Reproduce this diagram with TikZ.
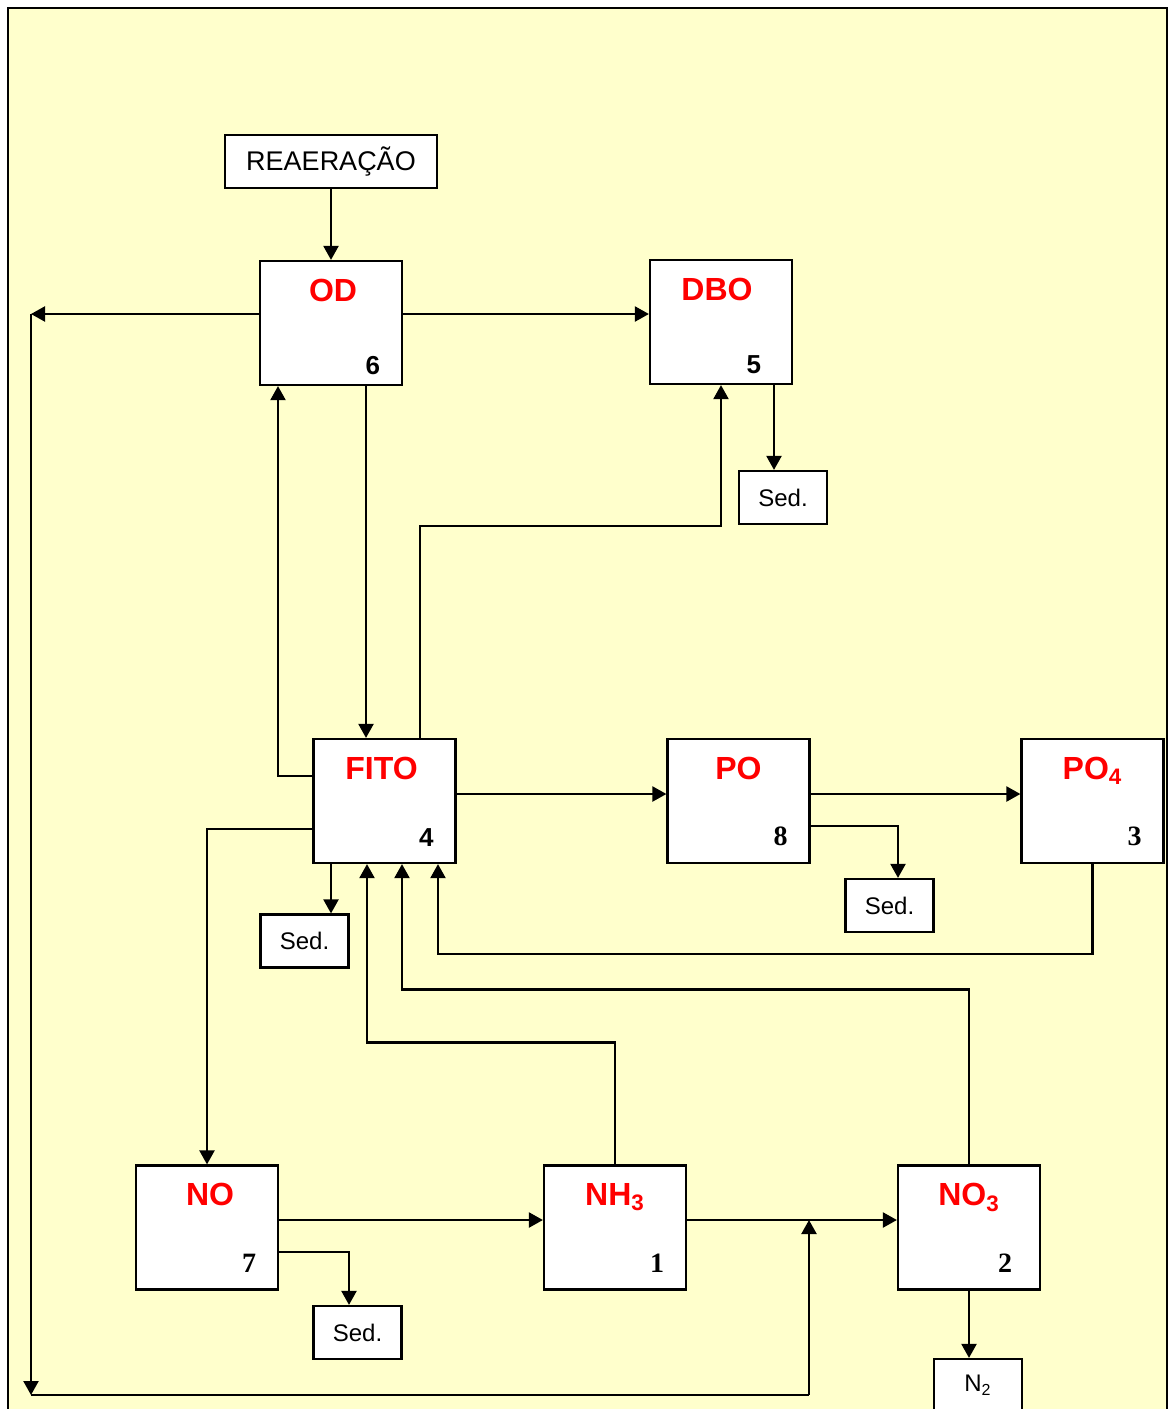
\documentclass[tikz,border=0pt]{standalone}
\usepackage{fontspec}
\setmainfont{Liberation Sans}
\newfontfamily\numserif{Liberation Serif}
\usepackage{xcolor}
\definecolor{paperYellow}{HTML}{FFFFCC}
\definecolor{titleRed}{HTML}{FF0000}
\usepackage{tikz}
\usetikzlibrary{arrows.meta, positioning}

\begin{document}
\begin{tikzpicture}[
    x=0.5pt, y=-0.5pt,
    line width=1.1pt,
    flow/.style={-{Triangle[length=7pt,width=7.5pt]}},
    compBox/.style={draw, fill=white, minimum width=71pt, minimum height=62pt, inner sep=0pt},
    termBox/.style={draw, fill=white, minimum width=44pt, minimum height=26.5pt, inner sep=0pt, font=\fontsize{12}{12}\selectfont},
    titleLbl/.style={anchor=north, inner sep=0pt, yshift=-9pt, text=titleRed, font=\bfseries\fontsize{16}{16}\selectfont},
    numSans/.style={anchor=south east, inner sep=0pt, xshift=-11pt, yshift=5pt, font=\bfseries\fontsize{13}{13}\selectfont},
    numSerif/.style={anchor=south east, inner sep=0pt, xshift=-11pt, yshift=8.5pt, font=\numserif\bfseries\fontsize{14}{14}\selectfont}
]
\clip (0,0) rectangle (1170,1409);

% Background panel
\draw[fill=paperYellow] (8,8) rectangle (1167,1440);

% Row 1: OD and DBO
\node[compBox, label={[titleLbl, xshift=1pt]north:OD}, label={[numSans]south east:6}] (od) at (331,323) {};
\node[compBox, label={[titleLbl, xshift=-2pt]north:DBO}, label={[numSans, xshift=-4.5pt]south east:5}] (dbo) at (721,322) {};
\node[termBox, minimum width=106pt, font=\fontsize{13.5}{13.5}\selectfont, above=35.5pt of od] (reaer) {REAERAÇÃO};

% Row 2: FITO, PO, PO4
\node[compBox, label={[titleLbl, xshift=-1.5pt]north:FITO}, label={[numSans, yshift=3.5pt]south east:4}] (fito) at (384.5,801) {};
\node[compBox, label={[titleLbl]north:PO}, label={[numSerif]south east:8}] (po) at (738.5,801) {};
\node[compBox, label={[titleLbl]north:{PO\textsubscript{4}}}, label={[numSerif]south east:3}] (po4) at (1092.5,801) {};

% Row 3: NO, NH3, NO3
\node[compBox, label={[titleLbl, xshift=1.5pt]north:NO}, label={[numSerif]south east:7}] (no) at (207,1227.5) {};
\node[compBox, label={[titleLbl]north:{NH\textsubscript{3}}}, label={[numSerif]south east:1}] (nh3) at (615,1227.5) {};
\node[compBox, label={[titleLbl]north:{NO\textsubscript{3}}}, label={[numSerif, xshift=-3pt]south east:2}] (no3) at (969,1227.5) {};

% Sinks
\node[termBox] (sedDbo) at (783,497.5) {Sed.};
\node[termBox] (sedFito) at (304.5,941) {Sed.};
\node[termBox] (sedPo) at (889.5,905.5) {Sed.};
\node[termBox] (sedNo) at (357.5,1332.5) {Sed.};
\node[termBox, font=\fontsize{12}{12}\selectfont] (n2) at (978,1385.5) {N\textsubscript{2}};

% Flows around OD
\draw[flow] (reaer) -- (od);
\draw[flow] ([yshift=4.5pt]od.east) -- ([yshift=4.5pt]od.east -| dbo.west);
\draw[flow] ([xshift=17.5pt]od.south) -- ([xshift=17.5pt]od.south |- fito.north);
\draw[flow] ([yshift=12.5pt]fito.west) -| ([xshift=-26.5pt]od.south);
\draw[flow] ([xshift=17.75pt]fito.north) -- ++(0,-212) -| (dbo.south);
\draw[flow] ([xshift=26.5pt]dbo.south) -- ([xshift=26.5pt]dbo.south |- sedDbo.north);

% Flows around FITO and PO
\draw[flow] ([yshift=3.5pt]fito.east) -- ([yshift=3.5pt]po.west);
\draw[flow] ([yshift=3.5pt]po.east) -- ([yshift=3.5pt]po4.west);
\draw[flow] ([yshift=-12.5pt]po.east) -| ([xshift=4.25pt]sedPo.north);
\draw[flow] (po4.south) -- ++(0,90) -| ([xshift=26.75pt]fito.south);
\draw[flow] (no3.north) -- ++(0,-175) -| ([xshift=8.75pt]fito.south);
\draw[flow] (nh3.north) -- ++(0,-122) -| ([xshift=-8.75pt]fito.south);
\draw[flow] ([xshift=-26.75pt]fito.south) -- ([xshift=-26.75pt]fito.south |- sedFito.north);
\draw[flow] ([yshift=-14pt]fito.west) -| (no.north);

% Nitrogen chain
\coordinate (no3In) at ([yshift=3.75pt]no3.west);
\draw[flow] ([yshift=3.75pt]no.east) -- ([yshift=3.75pt]nh3.west);
\draw[flow] ([yshift=3.75pt]nh3.east) -- (no3In);
\draw[flow] ([yshift=-12.25pt]no.east) -| ([xshift=-4.25pt]sedNo.north);
\draw[flow] (no3.south) -- (no3.south |- n2.north);

% Return loop from OD down the left side
\coordinate (loopNW) at (31,314);
\coordinate (loopSW) at (31,1395);
\coordinate (loopSE) at (809,1395);
\draw[flow] ([yshift=4.5pt]od.west) -- (loopNW);
\draw[flow] (loopNW) -- (loopSW);
\draw (loopSW) -- (loopSE);
\draw[flow] (loopSE) -- (loopSE |- no3In);

\end{tikzpicture}
\end{document}
